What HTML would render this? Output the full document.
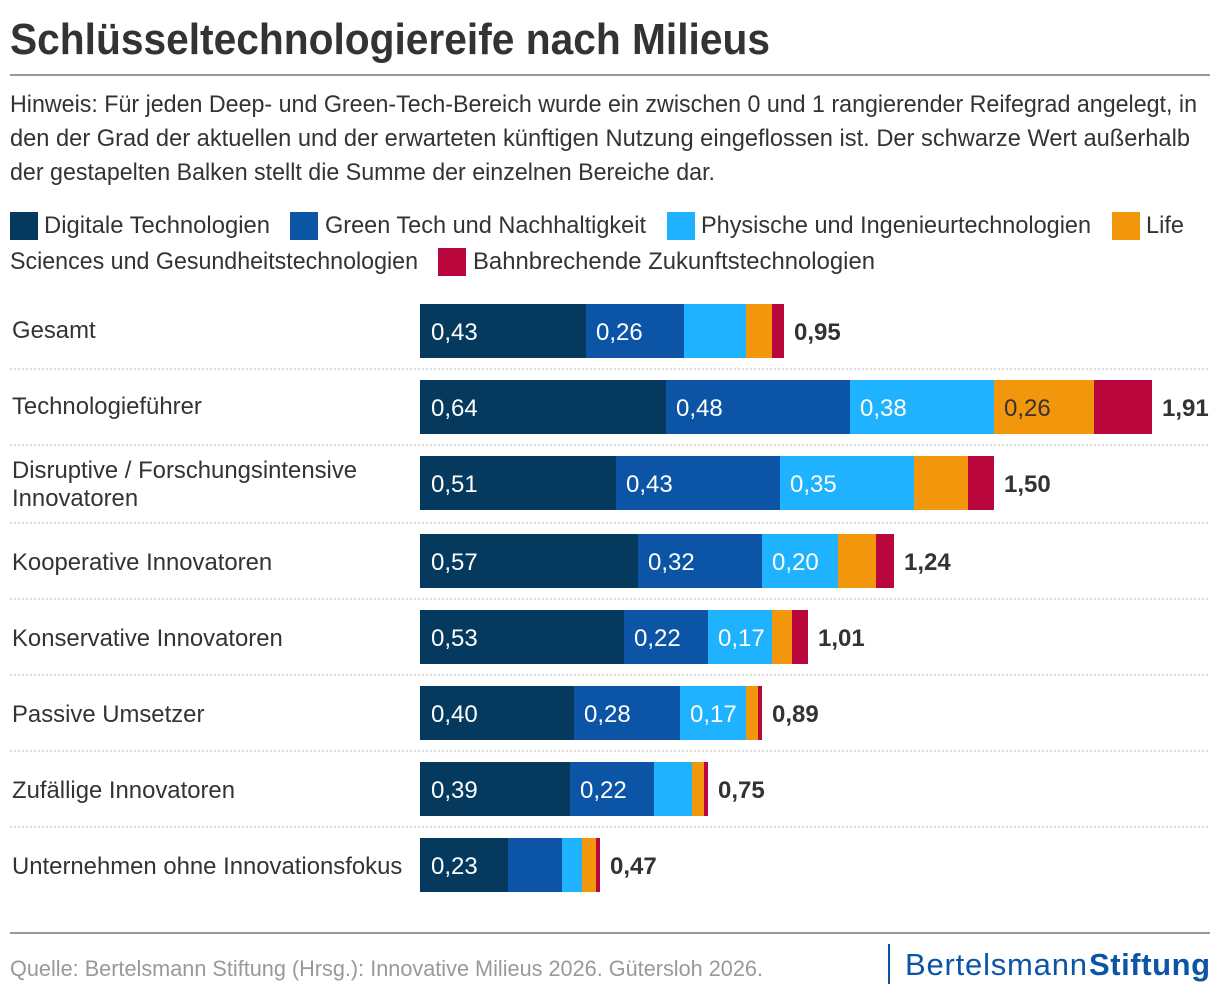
<!DOCTYPE html>
<html lang="de">
<head>
<meta charset="utf-8">
<title>Schlüsseltechnologiereife nach Milieus</title>
<style>
html,body{margin:0;padding:0;background:#fff;width:1220px;height:1000px;overflow:hidden}
svg{display:block;font-family:"Liberation Sans",sans-serif}
text{fill:#333}
</style>
</head>
<body>
<svg id="chart" width="1220" height="1000" viewBox="0 0 1220 1000" xmlns="http://www.w3.org/2000/svg">
<rect x="0" y="0" width="1220" height="1000" fill="#fff"/>
<text x="10" y="54" font-size="44" font-weight="700" textLength="760" lengthAdjust="spacingAndGlyphs">Schlüsseltechnologiereife nach Milieus</text>
<rect x="10" y="74" width="1200" height="2" fill="#999"/>
<g font-size="24">
<text x="10" y="112" textLength="1187" lengthAdjust="spacingAndGlyphs">Hinweis: Für jeden Deep- und Green-Tech-Bereich wurde ein zwischen 0 und 1 rangierender Reifegrad angelegt, in</text>
<text x="10" y="146" textLength="1180" lengthAdjust="spacingAndGlyphs">den der Grad der aktuellen und der erwarteten künftigen Nutzung eingeflossen ist. Der schwarze Wert außerhalb</text>
<text x="10" y="180" textLength="705" lengthAdjust="spacingAndGlyphs">der gestapelten Balken stellt die Summe der einzelnen Bereiche dar.</text>
</g>
<g font-size="24">
<rect x="10" y="212" width="28" height="28" fill="#053a5e"/>
<text x="44" y="233" textLength="226" lengthAdjust="spacingAndGlyphs">Digitale Technologien</text>
<rect x="290" y="212" width="28" height="28" fill="#0c55a6"/>
<text x="325" y="233" textLength="321" lengthAdjust="spacingAndGlyphs">Green Tech und Nachhaltigkeit</text>
<rect x="667" y="212" width="28" height="28" fill="#1fb2ff"/>
<text x="701" y="233" textLength="390" lengthAdjust="spacingAndGlyphs">Physische und Ingenieurtechnologien</text>
<rect x="1112" y="212" width="28" height="28" fill="#f2970b"/>
<text x="1146" y="233" textLength="38" lengthAdjust="spacingAndGlyphs">Life</text>
<text x="10" y="269" textLength="408" lengthAdjust="spacingAndGlyphs">Sciences und Gesundheitstechnologien</text>
<rect x="438" y="248" width="28" height="28" fill="#b9063c"/>
<text x="473" y="269" textLength="402" lengthAdjust="spacingAndGlyphs">Bahnbrechende Zukunftstechnologien</text>
</g>
<g id="plot"></g>
<rect x="10" y="932" width="1200" height="2" fill="#999"/>
<text x="10" y="976" font-size="22" style="fill:#999" textLength="753" lengthAdjust="spacingAndGlyphs">Quelle: Bertelsmann Stiftung (Hrsg.): Innovative Milieus 2026. Gütersloh 2026.</text>
<g font-size="31">
<rect x="888" y="944" width="2" height="40" fill="#0c55a6"/>
<text x="905" y="975" style="fill:#0c55a6" textLength="182" lengthAdjust="spacing">Bertelsmann</text>
<text x="1089" y="975" font-weight="700" style="fill:#0c55a6" textLength="121" lengthAdjust="spacing">Stiftung</text>
</g>
</svg>
<script>
const categories = ["Gesamt", "Technologieführer", "Disruptive / Forschungsintensive\nInnovatoren", "Kooperative Innovatoren", "Konservative Innovatoren", "Passive Umsetzer", "Zufällige Innovatoren", "Unternehmen ohne Innovationsfokus"];
const digital = [0.432, 0.641, 0.510, 0.568, 0.531, 0.401, 0.391, 0.229];
const greenTech = [0.256, 0.479, 0.427, 0.323, 0.219, 0.276, 0.219, 0.141];
const physical = [0.161, 0.376, 0.349, 0.198, 0.167, 0.172, 0.099, 0.052];
const lifeSciences = [0.068, 0.259, 0.141, 0.099, 0.052, 0.031, 0.031, 0.036];
const futureTech = [0.031, 0.151, 0.068, 0.047, 0.042, 0.010, 0.010, 0.010];
const totals = [0.95, 1.91, 1.50, 1.24, 1.01, 0.89, 0.75, 0.47];
const seriesNames = ["digital", "green-tech", "physical", "life-sciences", "future"];
const seriesColors = ["#053a5e", "#0c55a6", "#1fb2ff", "#f2970b", "#b9063c"];
const seriesTextColors = ["#fff", "#fff", "#fff", "#333", "#fff"];

const allSeries = [digital, greenTech, physical, lifeSciences, futureTech];
const SVG_NS = "http://www.w3.org/2000/svg";
const plotGroup = document.getElementById("plot");
const X0 = 420, UNIT = 384, BAR_H = 54, ROW_H = 76, PLOT_TOP = 304;
const LABEL_MIN = 0.165, TEXT_K = 0.995;
const xScale = v => Math.round(X0 + v * UNIT);
const fmt = v => v.toFixed(2).replace(".", ",");

function make(tag, attrs, text) {
  const el = document.createElementNS(SVG_NS, tag);
  for (const k in attrs) el.setAttribute(k, attrs[k]);
  if (text !== undefined) el.textContent = text;
  plotGroup.appendChild(el);
  return el;
}
function squeeze(el, k) {
  el.setAttribute("textLength", (el.getComputedTextLength() * k).toFixed(1));
  el.setAttribute("lengthAdjust", "spacingAndGlyphs");
}

let rowTop = PLOT_TOP;
let labelShift = 34;
categories.forEach((cat, i) => {
  const lines = cat.split("\n");
  const extra = lines.length > 1 ? 2 : 0;
  const slug = "row-" + (i + 1);

  lines.forEach((line, j) => {
    const baseline = lines.length > 1 ? rowTop + 22 + j * 28 : rowTop + labelShift;
    const t = make("text", {x: 12, y: baseline, "font-size": 24}, line);
    
    
    squeeze(t, TEXT_K);
  });
  labelShift += extra;

  let cum = 0;
  allSeries.forEach((values, s) => {
    const x1 = xScale(cum);
    cum += values[i];
    const x2 = xScale(cum);
    const r = make("rect", {x: x1, y: rowTop, width: Math.max(0, x2 - x1), height: BAR_H, fill: seriesColors[s]});
    
    
    r.setAttribute('data-series', seriesNames[s]);
    r.setAttribute('data-row', slug);
    if (values[i] >= LABEL_MIN) {
      const t = make("text", {x: x1 + (s === 0 ? 11 : 10), y: rowTop + 36, "font-size": 24}, fmt(values[i]));
      t.style.fill = seriesTextColors[s];
      
      
    }
  });

  const tot = make("text", {x: xScale(cum) + 10, y: rowTop + 36, "font-size": 24, "font-weight": 700}, fmt(totals[i]));
  
  

  if (i < categories.length - 1) {
    const sepY = rowTop + BAR_H + 11 + extra;
    const l = make("line", {x1: 10, x2: 1210, y1: sepY, y2: sepY, stroke: "#ddd", "stroke-width": 2, "stroke-dasharray": "2 2"});
    
    
  }
  rowTop += ROW_H + extra;
});
</script>
</body>
</html>
